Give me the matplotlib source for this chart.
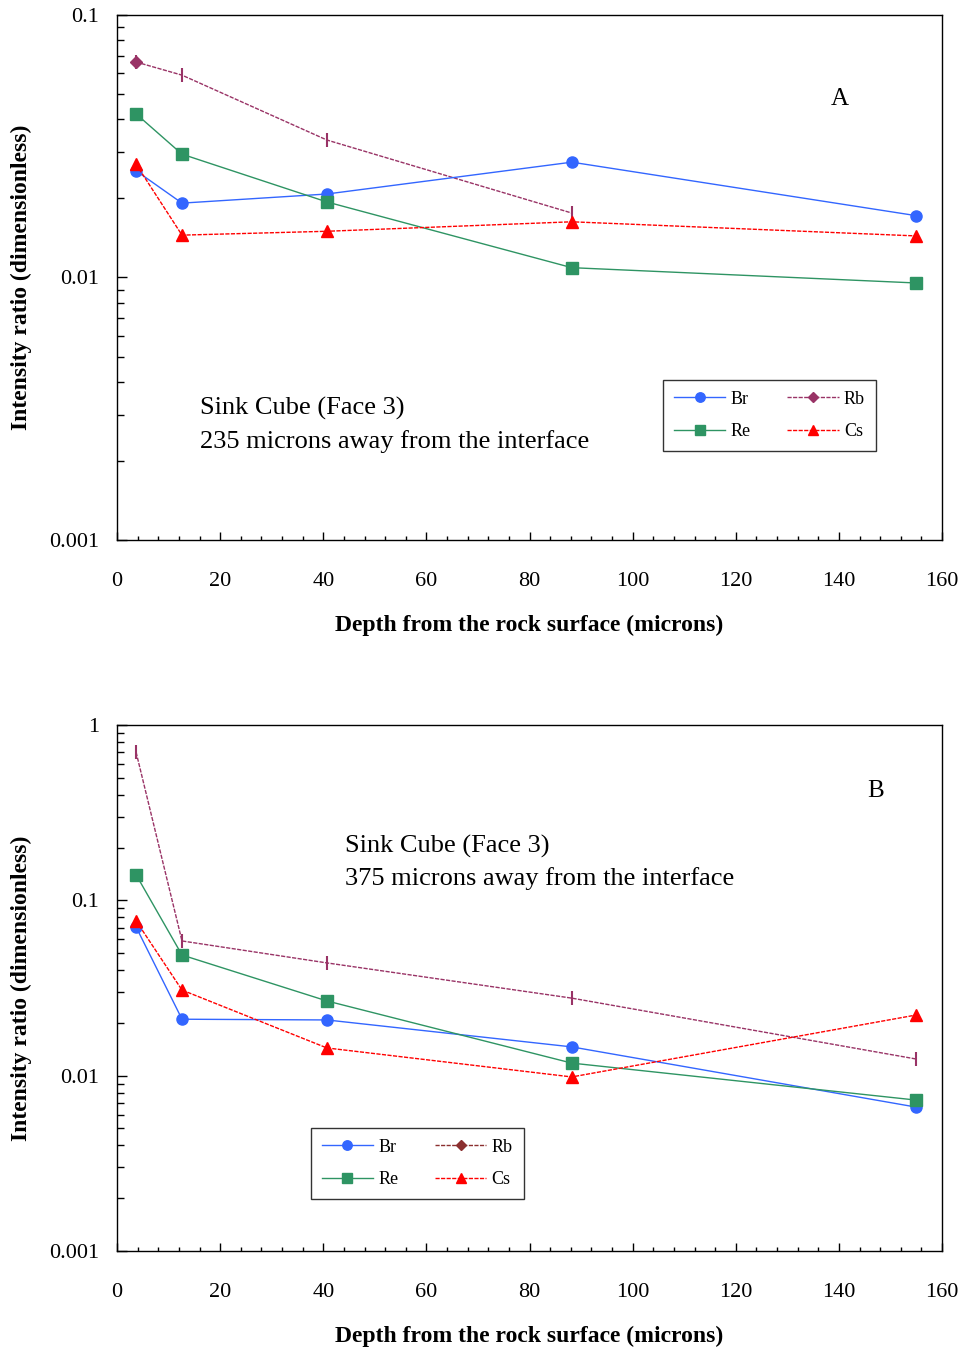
import matplotlib
matplotlib.use("Agg")
import matplotlib.pyplot as plt
from matplotlib.ticker import MultipleLocator, LogLocator, NullFormatter, FixedFormatter, FixedLocator

plt.rcParams["font.family"] = ["Liberation Serif", "DejaVu Serif"]

# depth (microns)
depth = [3.7, 12.6, 40.7, 88.2, 155.0]

# panel A: 235 microns away from the interface
a_br = [0.0255, 0.0192, 0.0208, 0.0275, 0.0172]
a_re = [0.0420, 0.0295, 0.0194, 0.0109, 0.00953]
a_cs = [0.0270, 0.0145, 0.0150, 0.0163, 0.0144]
a_rb = [0.0662, 0.0590, 0.0334, 0.0176]

# panel B: 375 microns away from the interface
b_br = [0.0705, 0.0210, 0.0208, 0.0146, 0.00662]
b_re = [0.140, 0.0488, 0.0267, 0.0118, 0.00726]
b_cs = [0.0764, 0.0308, 0.0144, 0.00984, 0.0222]
b_rb = [0.70, 0.0587, 0.0440, 0.0277, 0.01245]

BR, RE, CS, RB = "#3366FF", "#2E9463", "#FF0000", "#993366"


def panel(ax, br, re, cs, rb, ylim, yticks, yticklabels, letter, letter_xy,
          note_xy, note, leg_loc, rb_diamond_first, rb_leg_color):
    ax.plot(depth, br, color=BR, lw=1.0, marker="o", ms=8, label="Br", zorder=3)
    ax.plot(depth, re, color=RE, lw=1.0, marker="s", ms=8, label="Re", zorder=3)
    ax.plot(depth[:len(rb)], rb, color=RB, lw=1.0, ls=(0, (3, 1)), marker="|",
            ms=10, mew=1.5, zorder=2)
    if rb_diamond_first:
        ax.plot(depth[0], rb[0], color=RB, marker="D", ms=6, ls="none", zorder=3)
    ax.plot(depth, cs, color=CS, lw=1.0, ls=(0, (3, 1)), marker="^", ms=9,
            label="Cs", zorder=4)
    # legend proxy for Rb (diamond)
    ax.plot([], [], color=rb_leg_color, lw=1.0, ls=(0, (3, 1)),
            marker="D", ms=6, label="Rb")

    ax.set_yscale("log")
    ax.set_xlim(0, 160)
    ax.set_ylim(*ylim)
    ax.xaxis.set_major_locator(MultipleLocator(20))
    ax.xaxis.set_minor_locator(MultipleLocator(4))
    ax.yaxis.set_major_locator(FixedLocator(yticks))
    ax.yaxis.set_major_formatter(FixedFormatter(yticklabels))
    ax.yaxis.set_minor_locator(LogLocator(base=10, subs=range(2, 10)))
    ax.yaxis.set_minor_formatter(NullFormatter())
    ax.tick_params(which="both", direction="in", labelsize=16, width=1)
    ax.tick_params(axis="x", which="major", length=6, pad=23)
    ax.tick_params(axis="x", which="minor", length=3)
    ax.tick_params(axis="y", which="major", length=7, pad=13)
    ax.tick_params(axis="y", which="minor", length=5)
    for sp in ax.spines.values():
        sp.set_linewidth(1.0)

    ax.set_xlabel("Depth from the rock surface (microns)", fontsize=17,
                  fontweight="bold", labelpad=17)
    ax.set_ylabel("Intensity ratio (dimensionless)", fontsize=17,
                  fontweight="bold", labelpad=12)

    ax.text(*letter_xy, letter, transform=ax.transAxes, fontsize=18,
            ha="center", va="center")
    ax.text(*note_xy, note, transform=ax.transAxes, fontsize=19,
            ha="left", va="top", linespacing=1.55)

    hs, ls = ax.get_legend_handles_labels()
    byl = dict(zip(ls, hs))
    handles = [byl["Br"], byl["Re"], byl["Rb"], byl["Cs"]]
    leg = ax.legend(handles, ["Br", "Re", "Rb", "Cs"], ncol=2,
                    loc="upper left", bbox_to_anchor=leg_loc, borderaxespad=0,
                    fontsize=13, frameon=True, fancybox=False,
                    edgecolor="black", handlelength=2.85, handletextpad=0.3,
                    columnspacing=2.0, borderpad=0.6, labelspacing=0.85,
                    markerscale=0.85)
    leg.get_frame().set_linewidth(1.0)


fig = plt.figure(figsize=(9.64, 13.51), dpi=100)
ax1 = fig.add_axes([0.1214, 0.6003, 0.8558, 0.3886])
ax2 = fig.add_axes([0.1214, 0.0740, 0.8558, 0.3893])

panel(ax1, a_br, a_re, a_cs, a_rb, (0.001, 0.1), [0.001, 0.01, 0.1],
      ["0.001", "0.01", "0.1"], "A", (0.876, 0.840), (0.101, 0.272),
      "Sink Cube (Face 3)\n235 microns away from the interface",
      (0.662, 0.305), True, RB)
panel(ax2, b_br, b_re, b_cs, b_rb, (0.001, 1), [0.001, 0.01, 0.1, 1],
      ["0.001", "0.01", "0.1", "1"], "B", (0.920, 0.874), (0.276, 0.792),
      "Sink Cube (Face 3)\n375 microns away from the interface",
      (0.235, 0.234), False, "#8B2F2F")

fig.savefig("out.png", dpi=100, facecolor="white")
